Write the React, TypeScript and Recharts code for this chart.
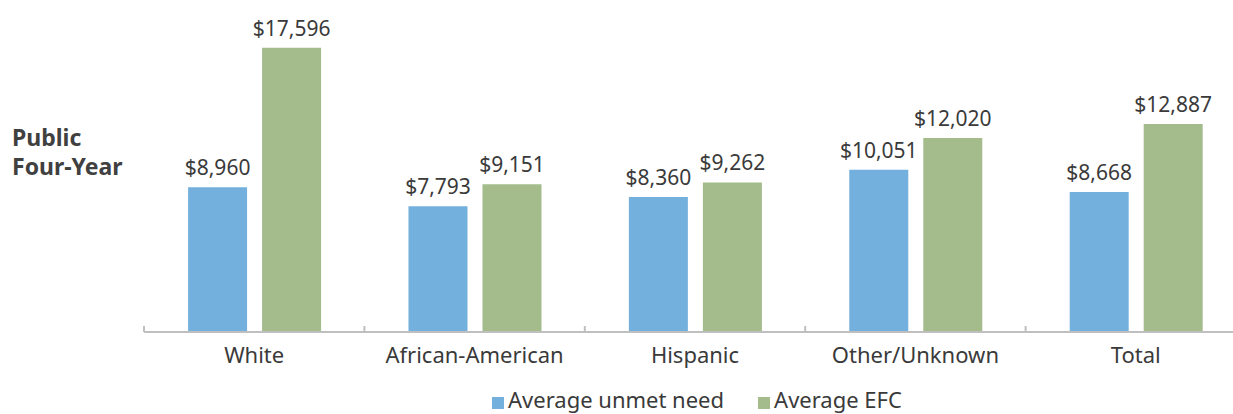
import React from 'react';
import { BarChart, Bar, XAxis, YAxis, LabelList } from 'recharts';

const categories = ['White', 'African-American', 'Hispanic', 'Other/Unknown', 'Total'];
const unmetNeed = [8960, 7793, 8360, 10051, 8668];
const averageEfc = [17596, 9151, 9262, 12020, 12887];

const BLUE = '#74b0dd';
const GREEN = '#a4bb8c';
const FONT = '"Noto Sans", sans-serif';

const chartData = categories.map((name, i) => ({
  name,
  unmet: unmetNeed[i],
  efc: averageEfc[i],
}));

const money = (v: any) => '$' + Number(v).toLocaleString('en-US');

// category tick with a small upward boundary mark on the left, like the original
const CategoryTick = (props: any) => {
  const { x, y, payload, index } = props;
  const half = 110.2;
  return (
    <g>
      <line x1={x - half} x2={x - half} y1={y - 6} y2={y} stroke="#bfbfbf" strokeWidth={2} />
      {index === categories.length - 1 && (
        <line x1={x + half} x2={x + half} y1={y - 6} y2={y} stroke="#bfbfbf" strokeWidth={2} />
      )}
      <text x={x} y={y + 31} textAnchor="middle" fill="#3a3a3a" fontSize={22} fontFamily={FONT}>
        {payload.value}
      </text>
    </g>
  );
};

const LegendBox = () => (
  <div
    style={{
      position: 'absolute',
      left: 492,
      top: 385,
      display: 'flex',
      alignItems: 'center',
      fontFamily: FONT,
      fontSize: 22,
      lineHeight: '28px',
      color: '#3a3a3a',
      whiteSpace: 'nowrap',
    }}
  >
    <span style={{ width: 12, height: 12, background: BLUE, display: 'inline-block', marginRight: 4, marginTop: 8 }} />
    <span style={{ marginRight: 34 }}>Average unmet need</span>
    <span style={{ width: 12, height: 12, background: GREEN, display: 'inline-block', marginRight: 4, marginTop: 8 }} />
    <span>Average EFC</span>
  </div>
);

export default function App() {
  return (
    <div
      style={{
        position: 'absolute',
        left: 0,
        top: 0,
        width: 1233,
        height: 414,
        overflow: 'hidden',
        background: '#fff',
      }}
    >
      <div
        style={{
          position: 'absolute',
          left: 12,
          top: 123,
          fontFamily: FONT,
          fontWeight: 700,
          fontSize: 23,
          lineHeight: '29px',
          color: '#404040',
        }}
      >
        Public
        <br />
        Four-Year
      </div>
      <BarChart
        width={1260}
        height={414}
        data={chartData}
        margin={{ top: 9, right: 14, left: 144, bottom: 0 }}
        barCategoryGap="20%"
        barGap={15}
      >
        <XAxis
          dataKey="name"
          axisLine={{ stroke: '#bfbfbf', strokeWidth: 2 }}
          tickLine={false}
          tickSize={0}
          tickMargin={0}
          tick={<CategoryTick />}
          interval={0}
          height={82}
        />
        <YAxis hide domain={[0, 20000]} width={0} />
        <Bar dataKey="unmet" fill={BLUE} isAnimationActive={false}>
          <LabelList
            dataKey="unmet"
            position="top"
            offset={12}
            formatter={money}
            style={{ fill: '#3a3a3a', fontSize: 21, fontFamily: FONT }}
          />
        </Bar>
        <Bar dataKey="efc" fill={GREEN} isAnimationActive={false}>
          <LabelList
            dataKey="efc"
            position="top"
            offset={12}
            formatter={money}
            style={{ fill: '#3a3a3a', fontSize: 21, fontFamily: FONT }}
          />
        </Bar>
      </BarChart>
      <LegendBox />
    </div>
  );
}
